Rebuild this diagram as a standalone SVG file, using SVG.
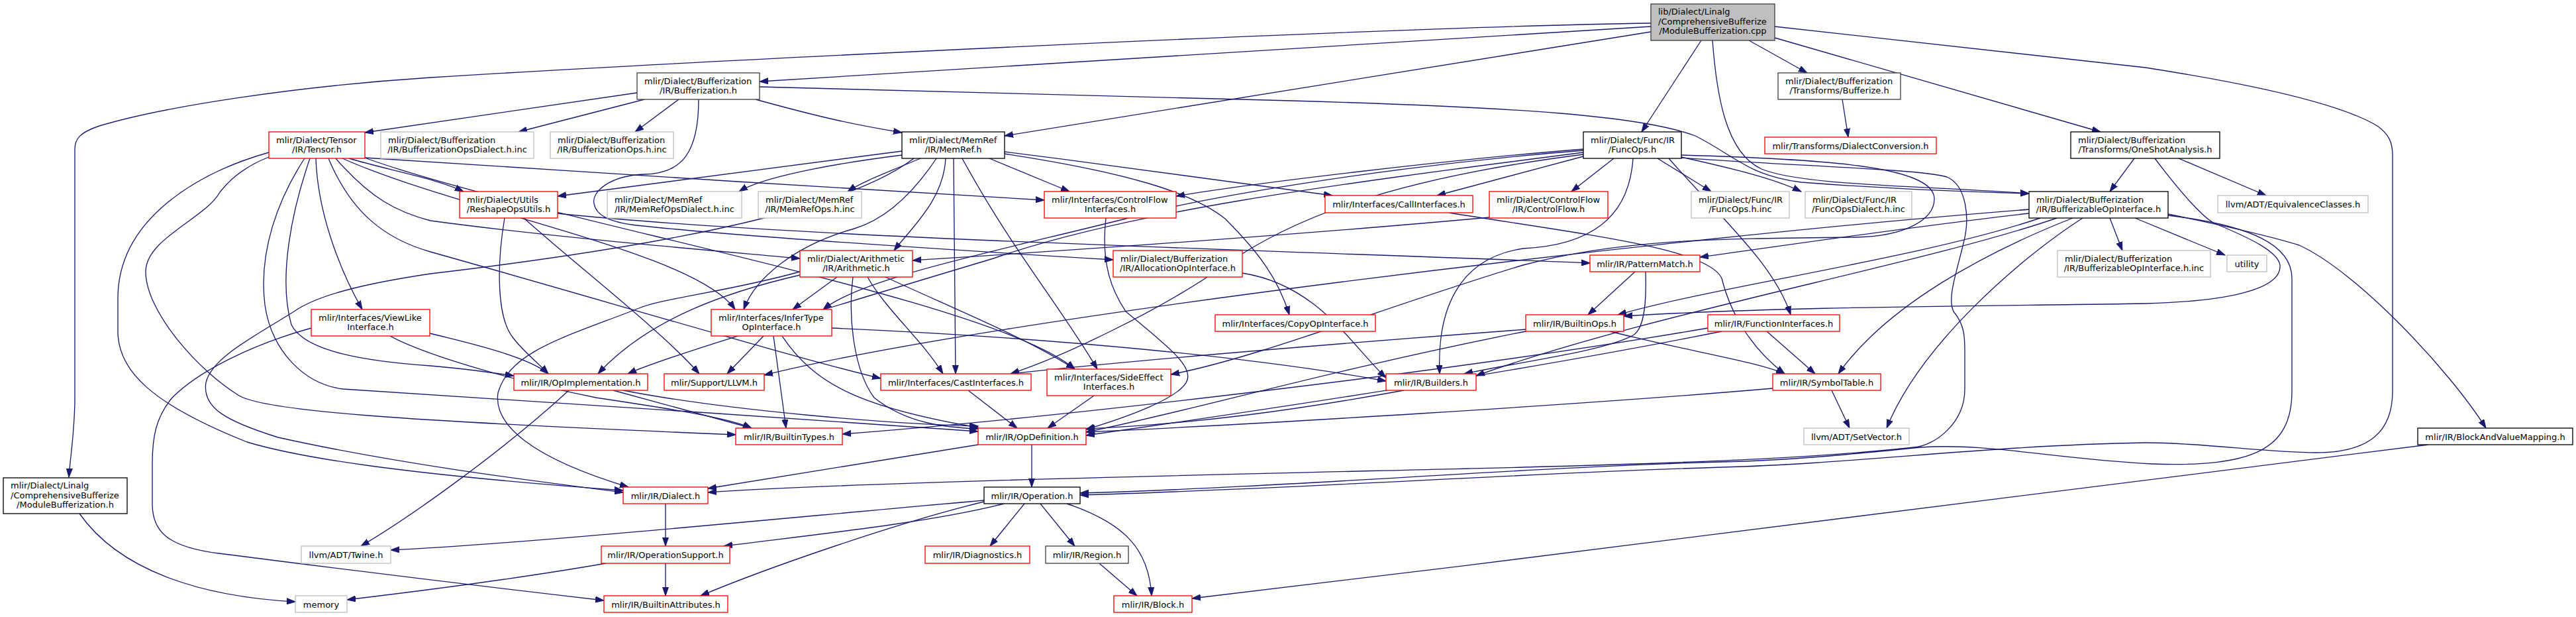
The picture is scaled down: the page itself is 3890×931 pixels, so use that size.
<svg xmlns="http://www.w3.org/2000/svg" width="3890" height="931" viewBox="0 0 3890 931">
<style>
.n rect{fill:#fff;stroke-width:1.33}
.k rect{stroke:#000}
.d rect{stroke:#404040}
.r rect{stroke:#ff0000}
.g rect{stroke:#bfbfbf}
.rt rect{fill:#bfbfbf;stroke:#404040}
text{font-family:"DejaVu Sans",sans-serif;font-size:13px;fill:#000}
.c{text-anchor:middle}
#edges path{fill:none;stroke:#191970;stroke-width:1.33;marker-end:url(#a)}
</style>
<defs>
<marker id="a" markerUnits="userSpaceOnUse" markerWidth="14" markerHeight="10" refX="13" refY="5" orient="auto"><path d="M0,0.5 L13,5 L0,9.5 z" fill="#191970" stroke="#191970" stroke-width="1"/></marker>
</defs>
<rect width="3890" height="931" fill="#fff"/>
<g id="edges">
<path d="M2493,35 C2100,40 1000,95 650,117 C450,130 250,160 150,190 C120,200 113,210 113,225 L113,600 C113,650 106,690 104,720"/>
<path d="M2493,40 L1147,123"/>
<path d="M2493,48 L1517,205"/>
<path d="M2569,61 L2479,199"/>
<path d="M2586,61 C2592,140 2605,230 2660,255 C2720,280 2900,280 3064,292"/>
<path d="M2641,61 L2729,110"/>
<path d="M2680,57 L3172,199"/>
<path d="M2680,40 L3240,102 C3420,130 3540,160 3590,190 C3608,203 3613,215 3613,235 L3613,590 C3613,650 3580,683 3497,683 C3420,683 3330,668 3240,668 C3000,672 2800,700 2600,705 C2300,714 1950,738 1631,747"/>
<path d="M120,775 C180,860 300,900 446,908"/>
<path d="M962,140 L551,200"/>
<path d="M973,150 L783,199"/>
<path d="M1025,150 L959,199"/>
<path d="M1055,150 C1055,230 1030,262 973,263 C920,265 893,290 897,307 C900,325 920,335 961,340 C1100,355 1400,375 1681,392"/>
<path d="M1141,150 C1250,180 1300,190 1362,200"/>
<path d="M1147,131 L1950,152 C2300,162 2480,175 2560,205 C2620,235 2640,265 2720,275 C2850,285 2950,289 3064,292"/>
<path d="M2782,150 L2791,207"/>
<path d="M3223,239 L3186,289"/>
<path d="M3290,239 L3422,295"/>
<path d="M3254,239 C3300,300 3330,330 3344,337 C3400,360 3440,380 3443,400 C3446,440 3350,455 3240,458 C3000,462 2700,462 2452,477"/>
<path d="M3186,329 L3205,378"/>
<path d="M3224,329 L3360,385"/>
<path d="M3274,323 C3380,345 3440,360 3472,370 C3560,410 3700,560 3754,646"/>
<path d="M3274,325 C3400,340 3461,370 3461,420 L3461,590 C3461,680 3400,705 3250,700 C3100,692 3000,668 2900,675 C2800,685 2700,695 2600,697 C2300,705 1950,735 1631,744"/>
<path d="M3064,322 C2900,340 2700,370 2567,388"/>
<path d="M3081,329 C2900,390 2600,430 2443,475"/>
<path d="M3106,329 C2900,400 2500,470 2229,567"/>
<path d="M3130,329 C3000,380 2850,460 2776,564"/>
<path d="M3145,329 C3050,390 2900,520 2849,646"/>
<path d="M3064,316 C2500,360 1500,480 1154,566"/>
<path d="M1362,228 L842,296"/>
<path d="M1362,234 C1250,248 1150,268 1116,289"/>
<path d="M1390,239 C1340,260 1300,275 1280,289"/>
<path d="M1414,239 C1380,290 1340,330 1290,345 C1200,370 1140,420 1123,467"/>
<path d="M1428,239 C1425,300 1380,340 1350,378"/>
<path d="M1440,239 L1443,564"/>
<path d="M1453,239 C1530,380 1600,460 1657,557"/>
<path d="M1494,239 L1615,289"/>
<path d="M1517,229 C1700,252 1900,280 2012,295"/>
<path d="M1517,232 C1700,260 1800,290 1850,330 C1900,380 1930,420 1947,475"/>
<path d="M1380,239 C1300,300 1100,360 650,413 C550,428 480,445 444,470 C380,510 320,540 311,577 C305,615 340,635 420,660 C600,700 800,725 941,743"/>
<path d="M406,230 C300,260 178,330 178,450 L178,500 C178,560 230,610 373,667 C450,690 600,715 941,740"/>
<path d="M406,237 C360,255 340,280 332,290 C310,330 220,360 220,410 C220,470 300,560 361,597 C400,620 600,635 1111,656"/>
<path d="M460,239 C420,300 390,380 400,460 C410,530 460,580 518,587 C700,600 1200,630 1477,651"/>
<path d="M468,239 C440,320 420,420 440,490 C460,530 550,545 650,552 C700,556 740,562 776,567"/>
<path d="M477,239 C480,330 520,420 547,467"/>
<path d="M527,239 C600,260 660,270 700,289"/>
<path d="M551,238 C700,250 1300,285 1577,302"/>
<path d="M507,239 C560,300 600,320 650,333 C850,360 1100,380 1208,390"/>
<path d="M496,239 C530,320 580,360 650,380 C900,450 1200,540 1330,571"/>
<path d="M517,239 C700,320 1050,380 1110,467"/>
<path d="M545,236 C800,330 1500,450 1623,557"/>
<path d="M2391,236 L2170,295"/>
<path d="M2437,239 L2373,289"/>
<path d="M2503,239 L2584,289"/>
<path d="M2539,237 C2620,255 2680,270 2720,289"/>
<path d="M2391,225 C2200,240 1900,275 1776,296"/>
<path d="M2391,227 C2100,250 1800,300 1700,330 C1500,380 1300,420 1243,467"/>
<path d="M2391,230 C2000,280 1700,320 1500,390 C1200,480 1000,540 948,564"/>
<path d="M2391,233 C2100,270 1950,330 1850,400 C1750,470 1600,540 1526,564"/>
<path d="M2466,239 C2460,330 2400,370 2300,375 C2200,390 2170,470 2174,564"/>
<path d="M2539,234 C2750,240 2921,250 2921,300 C2921,330 2880,357 2800,358 C2600,360 2450,360 2300,400 C2100,460 1900,540 1768,565"/>
<path d="M2520,239 C2600,330 2680,400 2704,475"/>
<path d="M2539,238 C2700,250 2900,255 2940,267 C2970,280 2975,330 2965,367 C2955,410 2940,450 2950,470 C2967,490 2967,510 2967,530 L2967,587 C2967,640 2920,673 2890,675 C2750,690 2600,697 2300,705 C1900,715 1300,727 1069,743"/>
<path d="M2249,328 C1900,360 1500,385 1378,393"/>
<path d="M2188,321 C2400,355 2580,375 2600,420 C2615,480 2650,530 2695,564"/>
<path d="M1670,329 C1662,400 1680,440 1700,470 C1760,520 1800,550 1793,573 C1785,600 1700,630 1640,648"/>
<path d="M1876,412 C1990,430 2040,520 2093,570"/>
<path d="M1153,507 L1098,564"/>
<path d="M1168,507 L1187,646"/>
<path d="M1181,507 C1230,580 1300,615 1477,645"/>
<path d="M1256,495 C1600,510 1900,540 2093,575"/>
<path d="M649,503 C720,520 800,540 828,564"/>
<path d="M589,507 C650,540 800,580 900,600 C1000,615 1100,630 1135,646"/>
<path d="M470,495 C380,520 300,560 260,600 C235,630 230,660 230,700 L230,760 C230,800 250,825 330,835 C450,850 600,870 912,906"/>
<path d="M762,329 C750,400 750,480 775,510 C790,530 810,545 828,564"/>
<path d="M791,329 C870,400 1000,500 1056,564"/>
<path d="M842,322 C1200,360 2000,380 2401,397"/>
<path d="M1310,418 C1340,470 1390,510 1424,564"/>
<path d="M1337,418 C1450,470 1550,510 1623,557"/>
<path d="M1264,418 L1197,467"/>
<path d="M1288,418 C1280,480 1290,560 1320,600 C1370,640 1430,645 1477,647"/>
<path d="M1208,415 C1100,440 980,480 903,564"/>
<path d="M1208,410 C1100,440 1000,450 965,465 C850,510 770,530 752,593 C745,640 800,690 949,735"/>
<path d="M1652,597 L1582,646"/>
<path d="M1462,589 L1536,646"/>
<path d="M2469,410 L2398,475"/>
<path d="M2485,410 C2487,470 2480,500 2464,507 C2420,530 2300,545 2211,564"/>
<path d="M2431,500 C2550,530 2650,545 2695,564"/>
<path d="M2304,497 C2000,520 1700,545 1526,564"/>
<path d="M2304,500 C2000,560 1800,620 1640,652"/>
<path d="M2668,500 L2741,564"/>
<path d="M2600,500 C2300,560 1900,620 1640,657"/>
<path d="M2579,495 C2200,560 1600,630 1272,655"/>
<path d="M2766,589 L2793,646"/>
<path d="M2677,586 C2400,610 1900,640 1640,652"/>
<path d="M2120,589 C1950,620 1800,640 1640,647"/>
<path d="M1558,671 L1558,735"/>
<path d="M1477,671 C1300,700 1150,725 1069,737"/>
<path d="M859,589 C760,680 620,780 545,824"/>
<path d="M926,589 L1135,646"/>
<path d="M941,589 C1100,620 1350,640 1477,643"/>
<path d="M1005,760 L1005,824"/>
<path d="M1547,760 L1495,824"/>
<path d="M1571,760 L1623,824"/>
<path d="M1611,760 C1700,790 1735,830 1739,899"/>
<path d="M1516,760 C1400,790 1200,810 1093,824"/>
<path d="M1486,757 C1350,790 1150,860 1058,899"/>
<path d="M1486,755 C1200,780 800,820 590,830"/>
<path d="M1005,850 L1005,899"/>
<path d="M915,850 C800,870 650,890 524,905"/>
<path d="M1660,850 L1717,899"/>
<path d="M3667,671 C3300,720 2500,820 1800,903"/>
</g>
<g id="n_root" class="n rt"><rect x="2493" y="6" width="187" height="55"/><text x="2504" y="22">lib/Dialect/Linalg</text><text x="2504" y="36.5">/ComprehensiveBufferize</text><text class="c" x="2586.5" y="51">/ModuleBufferization.cpp</text></g>
<g id="n_modbuf" class="n k"><rect x="5" y="721" width="187" height="54"/><text x="16" y="737">mlir/Dialect/Linalg</text><text x="16" y="751.5">/ComprehensiveBufferize</text><text class="c" x="98.5" y="766">/ModuleBufferization.h</text></g>
<g id="n_bufferization" class="n d"><rect x="962" y="110" width="185" height="40"/><text x="973" y="126.5">mlir/Dialect/Bufferization</text><text class="c" x="1054.5" y="141">/IR/Bufferization.h</text></g>
<g id="n_memref" class="n k"><rect x="1362" y="199" width="155" height="40"/><text x="1373" y="215.5">mlir/Dialect/MemRef</text><text class="c" x="1439.5" y="230">/IR/MemRef.h</text></g>
<g id="n_funcops" class="n k"><rect x="2391" y="199" width="148" height="40"/><text x="2402" y="215.5">mlir/Dialect/Func/IR</text><text class="c" x="2465" y="230">/FuncOps.h</text></g>
<g id="n_bufferize" class="n d"><rect x="2685" y="110" width="185" height="40"/><text x="2696" y="126.5">mlir/Dialect/Bufferization</text><text class="c" x="2777.5" y="141">/Transforms/Bufferize.h</text></g>
<g id="n_oneshot" class="n k"><rect x="3127" y="199" width="225" height="40"/><text x="3138" y="215.5">mlir/Dialect/Bufferization</text><text class="c" x="3239.5" y="230">/Transforms/OneShotAnalysis.h</text></g>
<g id="n_boi" class="n k"><rect x="3064" y="289" width="210" height="40"/><text x="3075" y="305.5">mlir/Dialect/Bufferization</text><text class="c" x="3169" y="320">/IR/BufferizableOpInterface.h</text></g>
<g id="n_operation" class="n k"><rect x="1486" y="735" width="145" height="25"/><text class="c" x="1558.5" y="752.5">mlir/IR/Operation.h</text></g>
<g id="n_tensor" class="n r"><rect x="406" y="199" width="145" height="40"/><text x="417" y="215.5">mlir/Dialect/Tensor</text><text class="c" x="478.5" y="230">/IR/Tensor.h</text></g>
<g id="n_bod_inc" class="n g"><rect x="575" y="199" width="231" height="40"/><text x="586" y="215.5">mlir/Dialect/Bufferization</text><text class="c" x="690.5" y="230">/IR/BufferizationOpsDialect.h.inc</text></g>
<g id="n_bo_inc" class="n g"><rect x="831" y="199" width="186" height="40"/><text x="842" y="215.5">mlir/Dialect/Bufferization</text><text class="c" x="924" y="230">/IR/BufferizationOps.h.inc</text></g>
<g id="n_reshape" class="n r"><rect x="694" y="289" width="148" height="40"/><text x="705" y="305.5">mlir/Dialect/Utils</text><text class="c" x="768" y="320">/ReshapeOpsUtils.h</text></g>
<g id="n_memrefopsdialect" class="n g"><rect x="917" y="289" width="203" height="40"/><text x="928" y="305.5">mlir/Dialect/MemRef</text><text class="c" x="1018.5" y="320">/IR/MemRefOpsDialect.h.inc</text></g>
<g id="n_memrefops" class="n g"><rect x="1145" y="289" width="156" height="40"/><text x="1156" y="305.5">mlir/Dialect/MemRef</text><text class="c" x="1223" y="320">/IR/MemRefOps.h.inc</text></g>
<g id="n_cfi" class="n r"><rect x="1577" y="289" width="199" height="40"/><text x="1588" y="305.5">mlir/Interfaces/ControlFlow</text><text class="c" x="1676.5" y="320">Interfaces.h</text></g>
<g id="n_arith" class="n r"><rect x="1208" y="378" width="170" height="40"/><text x="1219" y="394.5">mlir/Dialect/Arithmetic</text><text class="c" x="1293" y="409">/IR/Arithmetic.h</text></g>
<g id="n_allocoi" class="n r"><rect x="1681" y="378" width="195" height="40"/><text x="1692" y="394.5">mlir/Dialect/Bufferization</text><text class="c" x="1778.5" y="409">/IR/AllocationOpInterface.h</text></g>
<g id="n_callif" class="n r"><rect x="2001" y="295" width="223" height="26"/><text class="c" x="2112.5" y="312.5">mlir/Interfaces/CallInterfaces.h</text></g>
<g id="n_cf" class="n r"><rect x="2249" y="289" width="179" height="40"/><text x="2260" y="305.5">mlir/Dialect/ControlFlow</text><text class="c" x="2338.5" y="320">/IR/ControlFlow.h</text></g>
<g id="n_funcops_inc" class="n g"><rect x="2554" y="289" width="148" height="40"/><text x="2565" y="305.5">mlir/Dialect/Func/IR</text><text class="c" x="2628" y="320">/FuncOps.h.inc</text></g>
<g id="n_funcopsdialect_inc" class="n g"><rect x="2726" y="289" width="161" height="40"/><text x="2737" y="305.5">mlir/Dialect/Func/IR</text><text class="c" x="2806.5" y="320">/FuncOpsDialect.h.inc</text></g>
<g id="n_dialectconv" class="n r"><rect x="2665" y="207" width="259" height="25"/><text class="c" x="2794.5" y="224.5">mlir/Transforms/DialectConversion.h</text></g>
<g id="n_equiv" class="n g"><rect x="3349" y="295" width="227" height="26"/><text class="c" x="3462.5" y="312.5">llvm/ADT/EquivalenceClasses.h</text></g>
<g id="n_boi_inc" class="n g"><rect x="3107" y="378" width="231" height="40"/><text x="3118" y="394.5">mlir/Dialect/Bufferization</text><text class="c" x="3222.5" y="409">/IR/BufferizableOpInterface.h.inc</text></g>
<g id="n_utility" class="n g"><rect x="3363" y="385" width="60" height="25"/><text class="c" x="3393" y="402.5">utility</text></g>
<g id="n_patternmatch" class="n r"><rect x="2401" y="385" width="166" height="25"/><text class="c" x="2484" y="402.5">mlir/IR/PatternMatch.h</text></g>
<g id="n_viewlike" class="n r"><rect x="470" y="467" width="179" height="40"/><text x="481" y="483.5">mlir/Interfaces/ViewLike</text><text class="c" x="559.5" y="498">Interface.h</text></g>
<g id="n_infertype" class="n r"><rect x="1074" y="467" width="182" height="40"/><text x="1085" y="483.5">mlir/Interfaces/InferType</text><text class="c" x="1165" y="498">OpInterface.h</text></g>
<g id="n_copyoi" class="n r"><rect x="1835" y="475" width="242" height="25"/><text class="c" x="1956" y="492.5">mlir/Interfaces/CopyOpInterface.h</text></g>
<g id="n_builtinops" class="n r"><rect x="2304" y="475" width="148" height="25"/><text class="c" x="2378" y="492.5">mlir/IR/BuiltinOps.h</text></g>
<g id="n_functionif" class="n r"><rect x="2579" y="475" width="199" height="25"/><text class="c" x="2678.5" y="492.5">mlir/IR/FunctionInterfaces.h</text></g>
<g id="n_opimpl" class="n r"><rect x="776" y="564" width="202" height="25"/><text class="c" x="877" y="581.5">mlir/IR/OpImplementation.h</text></g>
<g id="n_llvm" class="n r"><rect x="1003" y="564" width="151" height="25"/><text class="c" x="1078.5" y="581.5">mlir/Support/LLVM.h</text></g>
<g id="n_castif" class="n r"><rect x="1330" y="564" width="227" height="25"/><text class="c" x="1443.5" y="581.5">mlir/Interfaces/CastInterfaces.h</text></g>
<g id="n_sideeffect" class="n r"><rect x="1581" y="557" width="187" height="40"/><text x="1592" y="573.5">mlir/Interfaces/SideEffect</text><text class="c" x="1674.5" y="588">Interfaces.h</text></g>
<g id="n_builders" class="n r"><rect x="2093" y="564" width="136" height="25"/><text class="c" x="2161" y="581.5">mlir/IR/Builders.h</text></g>
<g id="n_symboltable" class="n r"><rect x="2677" y="564" width="163" height="25"/><text class="c" x="2758.5" y="581.5">mlir/IR/SymbolTable.h</text></g>
<g id="n_builtintypes" class="n r"><rect x="1111" y="646" width="161" height="25"/><text class="c" x="1191.5" y="663.5">mlir/IR/BuiltinTypes.h</text></g>
<g id="n_opdef" class="n r"><rect x="1477" y="646" width="163" height="25"/><text class="c" x="1558.5" y="663.5">mlir/IR/OpDefinition.h</text></g>
<g id="n_setvector" class="n g"><rect x="2724" y="646" width="159" height="25"/><text class="c" x="2803.5" y="663.5">llvm/ADT/SetVector.h</text></g>
<g id="n_bavm" class="n k"><rect x="3651" y="646" width="234" height="25"/><text class="c" x="3768" y="663.5">mlir/IR/BlockAndValueMapping.h</text></g>
<g id="n_dialect" class="n r"><rect x="941" y="735" width="128" height="25"/><text class="c" x="1005" y="752.5">mlir/IR/Dialect.h</text></g>
<g id="n_twine" class="n g"><rect x="455" y="824" width="135" height="26"/><text class="c" x="522.5" y="841.5">llvm/ADT/Twine.h</text></g>
<g id="n_opsupport" class="n r"><rect x="908" y="824" width="194" height="26"/><text class="c" x="1005" y="841.5">mlir/IR/OperationSupport.h</text></g>
<g id="n_diagnostics" class="n r"><rect x="1397" y="824" width="158" height="26"/><text class="c" x="1476" y="841.5">mlir/IR/Diagnostics.h</text></g>
<g id="n_region" class="n d"><rect x="1579" y="824" width="125" height="26"/><text class="c" x="1641.5" y="841.5">mlir/IR/Region.h</text></g>
<g id="n_memory" class="n g"><rect x="446" y="899" width="78" height="25"/><text class="c" x="485" y="916.5">memory</text></g>
<g id="n_builtinattr" class="n r"><rect x="912" y="899" width="187" height="25"/><text class="c" x="1005.5" y="916.5">mlir/IR/BuiltinAttributes.h</text></g>
<g id="n_block" class="n r"><rect x="1682" y="899" width="118" height="25"/><text class="c" x="1741" y="916.5">mlir/IR/Block.h</text></g>
</svg>
